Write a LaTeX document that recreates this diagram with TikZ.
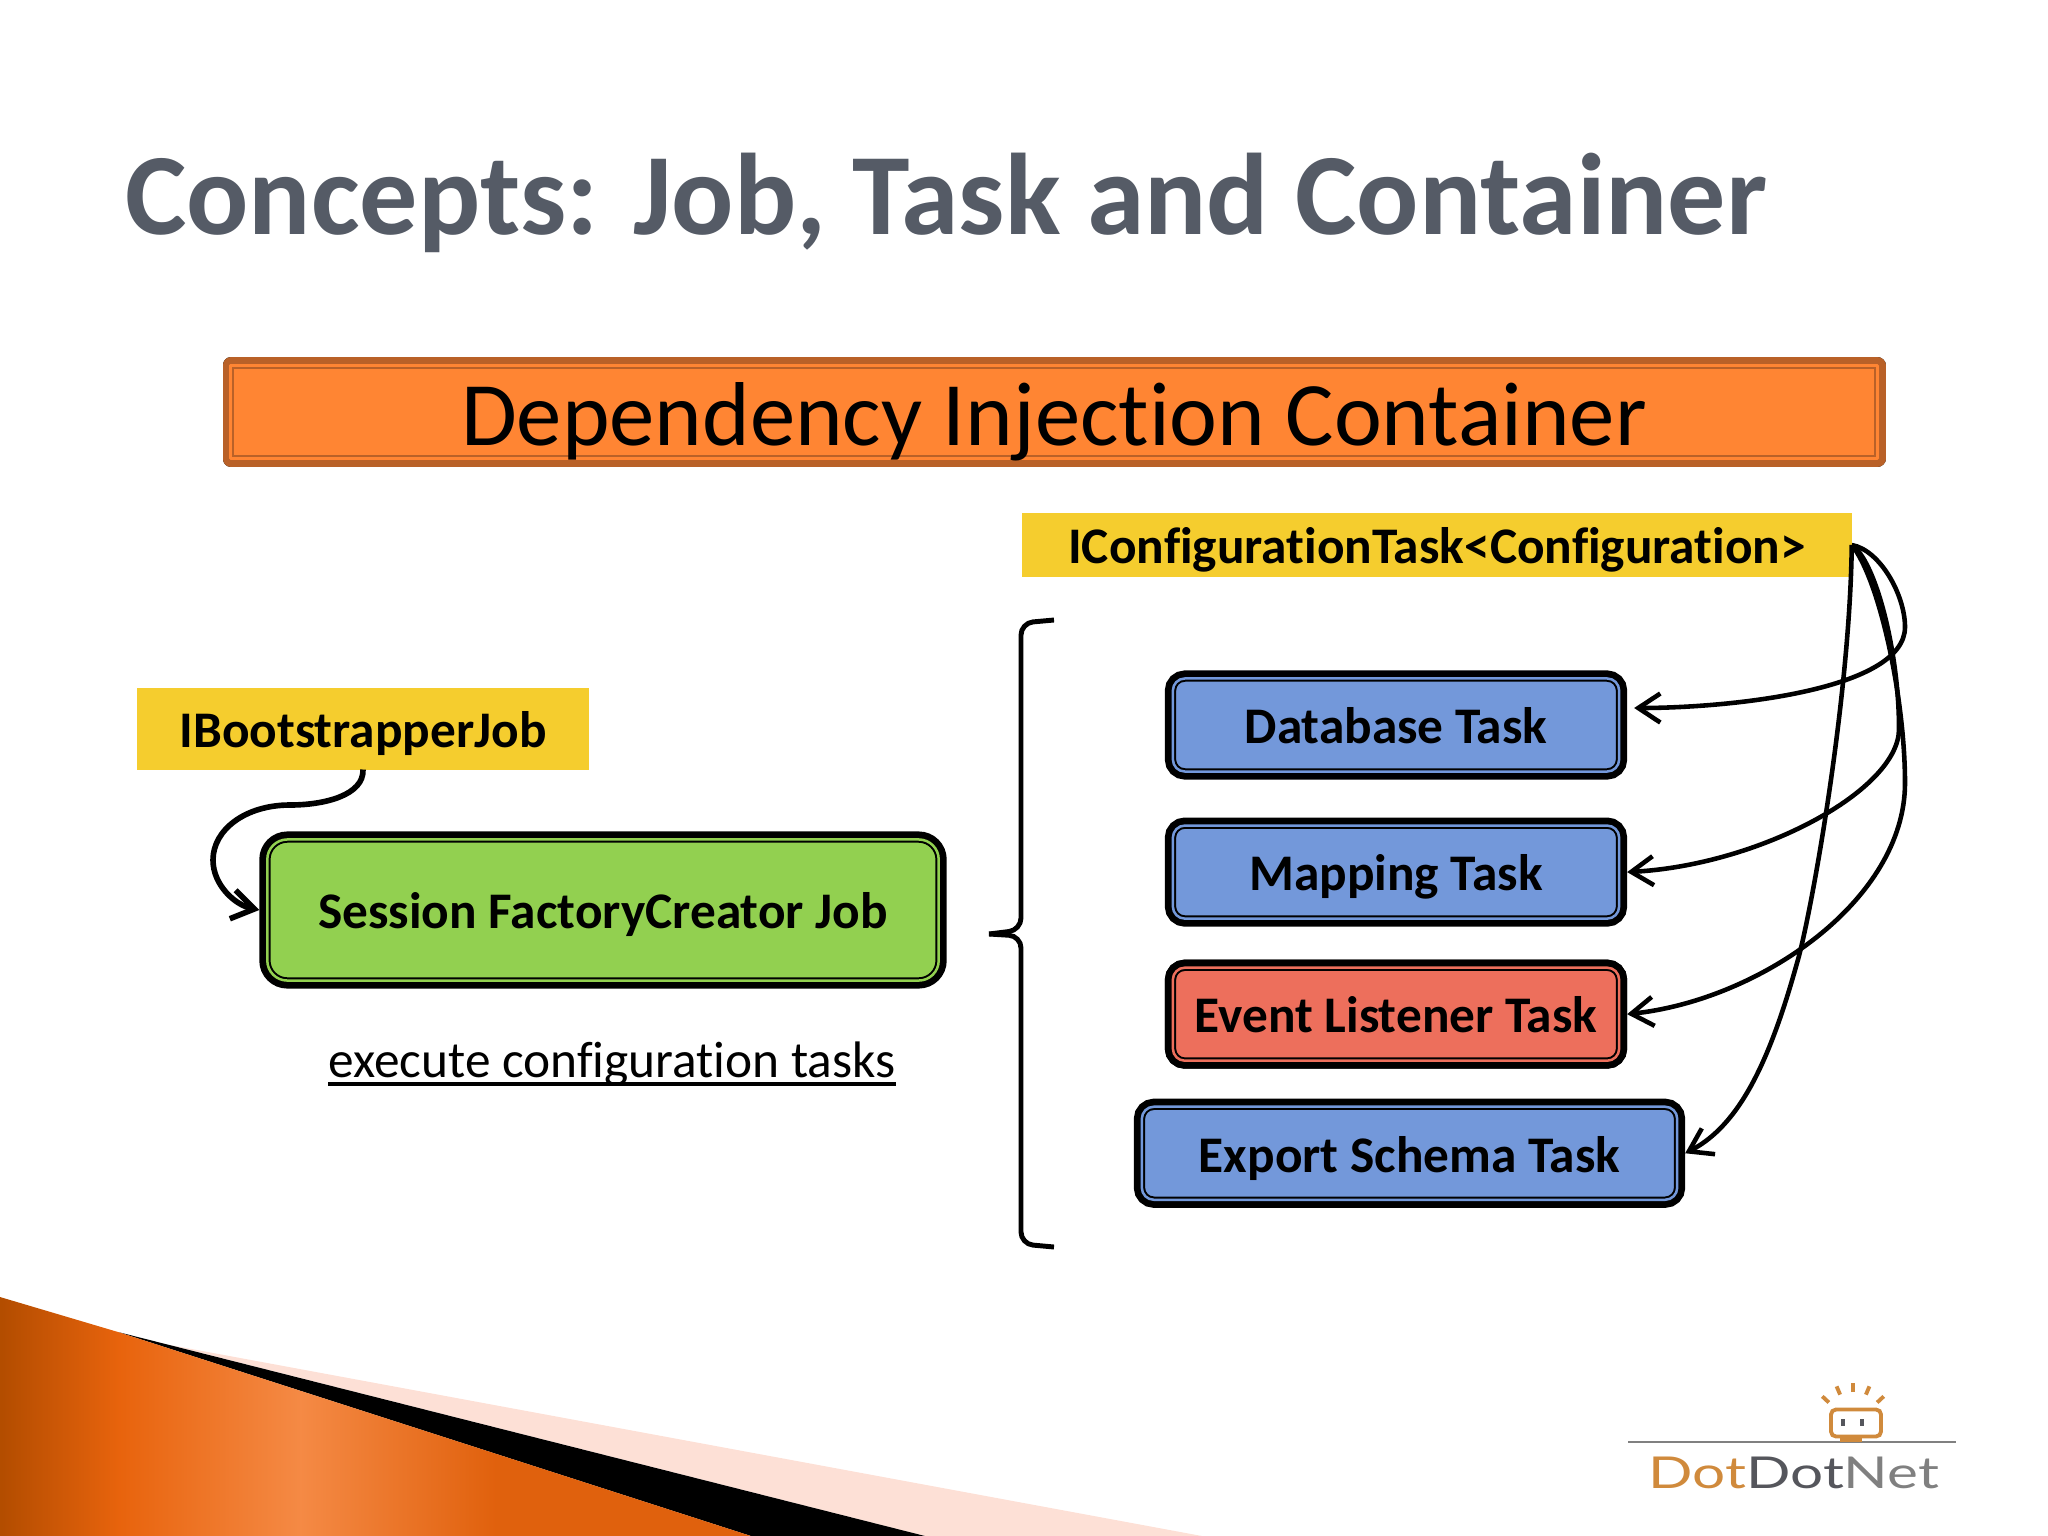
\documentclass[tikz,border=0pt]{standalone}
\usepackage{fontspec}
\setmainfont[Ligatures=NoCommon]{Carlito}
\newfontfamily\logofont{Lato}
\usetikzlibrary{arrows.meta, calc, positioning}
\definecolor{panelorange}{HTML}{FF8533}
\definecolor{paneledge}{HTML}{B96128}
\definecolor{labelyellow}{HTML}{F5CD2E}
\definecolor{taskblue}{HTML}{7398DA}
\definecolor{taskred}{HTML}{ED6F5C}
\definecolor{jobgreen}{HTML}{92D050}
\definecolor{titlegray}{HTML}{555B66}
\definecolor{wedgepink}{HTML}{FDE0D6}
\definecolor{logoorange}{HTML}{D08A3C}
\definecolor{logodark}{HTML}{55565C}
\pgfdeclarehorizontalshading{wedgeshade}{100bp}{rgb(0bp)=(0.70,0.30,0.00); rgb(25bp)=(0.70,0.30,0.00); rgb(33bp)=(0.91,0.39,0.05); rgb(45bp)=(0.96,0.54,0.27); rgb(58bp)=(0.88,0.38,0.05); rgb(75bp)=(0.88,0.38,0.05); rgb(100bp)=(0.88,0.38,0.05)}
\tikzstyle{boldtext} = [font=\fontsize{14.6}{17}\selectfont\bfseries, text height=10.7pt, text depth=0pt]
\tikzstyle{panel} = [rectangle, rounded corners=1.2mm, outer sep=0.8mm, inner sep=0, text centered, fill=#1, draw=black, line width=0.2mm, double=#1, double distance=0.25mm, preaction={draw=black, line width=1.6mm}]
\tikzstyle{label} = [rectangle, fill=labelyellow, outer sep=0, inner sep=0, text centered, boldtext]
\tikzstyle{task} = [panel=taskblue, minimum width=4.46cm, minimum height=0.93cm, boldtext]
\tikzstyle{arrow} = [line width=1.3pt, -{Straight Barb[length=2.2mm, width=2.9mm]}]
\begin{document}
\begin{tikzpicture}[x=0.01cm, y=-0.01cm, node distance = 5mm]
	\useasboundingbox (0,0) rectangle (2048,1536);
	\node (Title) [text=titlegray, font=\fontsize{33}{38}\selectfont\bfseries, text height=24pt, text depth=0pt] at (946,192) {Concepts: Job, Task and Container};
	
	\node (Container) [panel=panelorange, sharp corners, line join=round, draw=paneledge, preaction={draw=paneledge, line width=1.6mm}, minimum width=16.46cm, minimum height=0.93cm, font=\fontsize{25.8}{30}\selectfont, text height=18.8pt, text depth=0pt] at (1054,412) {Dependency Injection Container};
	\node (ConfigTask) [label, minimum width=8.29cm, minimum height=0.64cm] at (1437,545) {IConfigurationTask<Configuration>};
	\node (BootstrapJob) [label, minimum width=4.52cm, minimum height=0.81cm] at (363,729) {IBootstrapperJob};
	\node (SessionJob) [panel=jobgreen, rounded corners=2mm, minimum width=6.71cm, minimum height=1.41cm, boldtext] at (603,910) {Session FactoryCreator Job};
	\node (ExecuteText) [font=\fontsize{14.6}{17}\selectfont, inner sep=0, outer sep=0, text height=10.7pt, text depth=2pt] at (612,1062) {execute configuration tasks};
	\draw [line width=1.1pt] (ExecuteText.south west) -- (ExecuteText.south east);
	
	\node (Database) [task] at (1396,725) {Database Task};
	\node (Mapping) [task, below = 3.8mm of Database] {Mapping Task};
	\node (EventListener) [task, panel=taskred, below = 3.3mm of Mapping] {Event Listener Task};
	\node (ExportSchema) [task, below = 3.0mm of EventListener, xshift=1.35mm, minimum width=5.35cm] {Export Schema Task};
	
	\coordinate (BraceTop) at (1054,620);
	\coordinate (BraceTip) at (989,934);
	\coordinate (BraceBottom) at (1054,1247);
	\draw [line width=1.4pt, rounded corners=1.2mm] (BraceTop) -- (1021,623) -- (1021,930) -- (BraceTip);
	\draw [line width=1.4pt, rounded corners=1.2mm] (BraceTip) -- (1021,936) -- (1021,1244) -- (BraceBottom);
	
	\draw [arrow, line width=1.6pt] (BootstrapJob.south) .. controls (364,795) and (325,805) .. (290,805) .. controls (245,805) and (213,830) .. (213,860) .. controls (213,885) and (235,905) .. (SessionJob.west);
	\draw [arrow] (ConfigTask.east) .. controls (1880,550) and (1905,595) .. (1905,627) .. controls (1905,690) and (1730,708) .. ($(Database.east)+(7,-17)$);
	\draw [arrow] (ConfigTask.east) .. controls (1875,560) and (1899,650) .. (1899,729) .. controls (1899,790) and (1760,865) .. (Mapping.east);
	\draw [arrow] (ConfigTask.east) .. controls (1880,580) and (1905,700) .. (1905,783) .. controls (1905,900) and (1760,1000) .. (EventListener.east);
	\draw [arrow] (ConfigTask.east) .. controls (1850,700) and (1810,920) .. (1797,963) .. controls (1770,1060) and (1740,1125) .. (ExportSchema.east);
	
	\fill [wedgepink] (170,1345) -- (1202,1536) -- (925,1536) -- cycle;
	\fill [black] (118,1332) -- (925,1536) -- (751,1536) -- cycle;
	\shade [shading=wedgeshade] (0,1297) -- (118,1332) -- (751,1536) -- (0,1536) -- cycle;
	
	\draw [gray, line width=0.7pt] (1628,1442) -- (1956,1442);
	\node (LogoPlug) [rectangle, draw=logoorange, line width=1.1pt, minimum width=0.5cm, minimum height=0.27cm, inner sep=0, rounded corners=0.5mm] at (1856,1423) {};
	\node (LogoBase) [rectangle, fill=logoorange, minimum width=0.22cm, minimum height=0.05cm, inner sep=0] at (1851,1439) {};
	\foreach \x in {1843,1862}
		\draw [logodark, line width=1pt] (\x,1419) -- (\x,1426);
	\coordinate (LogoCenter) at (1853,1425);
	\foreach \a in {-43,-67,-90,-113,-137}
		\draw [logoorange, line width=1.1pt] ($(LogoCenter)+(\a:33)$) -- ($(LogoCenter)+(\a:42)$);
	\node (LogoText) [font=\logofont\fontsize{12.5}{16}\selectfont, inner sep=0] at (1794,1473) {\scalebox{1.33}[1]{\textcolor{logoorange}{Dot}\textcolor{logodark}{Dot}\textcolor{gray}{Net}}};
\end{tikzpicture}
\end{document}
